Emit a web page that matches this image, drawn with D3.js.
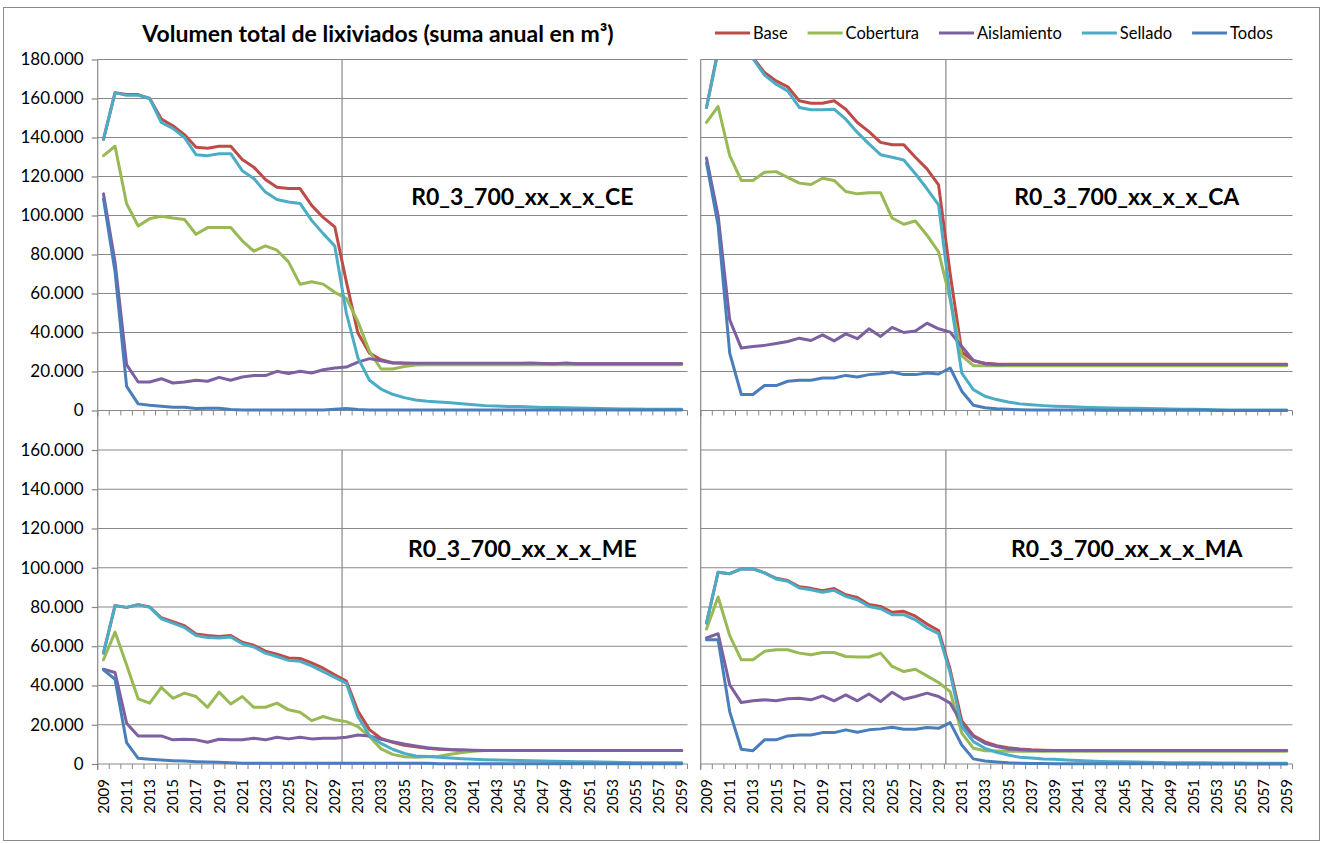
<!DOCTYPE html>
<html>
<head>
<meta charset="utf-8">
<script src="https://cdn.jsdelivr.net/npm/d3@7"></script>
<style>
body { margin: 0; background: #fff; }
#chart text { font-family: Lato, "Open Sans", sans-serif; fill: #000; }
</style>
</head>
<body>
<svg id="chart"></svg>
<script>
const years = d3.range(2009, 2060);
const seriesNames = ["Base", "Cobertura", "Aislamiento", "Sellado", "Todos"];
const yTicksTop = [0, 20000, 40000, 60000, 80000, 100000, 120000, 140000, 160000, 180000];
const yTicksBottom = [0, 20000, 40000, 60000, 80000, 100000, 120000, 140000, 160000];

// R0_3_700_xx_x_x_CE
const baseCE = [139000,163000,162000,162000,160000,149500,146000,141500,135000,134500,
    135500,135500,128700,124800,118500,114500,113800,113800,105200,99000,
    94200,66000,39700,29400,26000,24500,24200,24100,24000,24000,
    24000,24000,24000,24000,24000,24000,24000,24000,24000,24000,
    24000,24000,24000,24000,24000,24000,24000,24000,24000,24000,
    24000];
const coberturaCE = [130700,135500,106000,94600,98400,99600,98700,98000,90400,93800,
    93800,93800,87000,81700,84400,82200,76200,64700,66000,64800,
    60600,57500,45600,30300,21300,21300,22600,23300,23500,23500,
    23500,23500,23500,23500,23500,23500,23500,23500,23500,23500,
    23500,23500,23500,23500,23500,23500,23500,23500,23500,23500,
    23500];
const aislamientoCE = [111100,76200,23500,14600,14600,16300,14100,14600,15500,15000,
    17000,15500,17200,17900,17900,20100,18900,20100,19200,20900,
    21800,22300,24800,26600,25500,24300,24300,24200,24200,24200,
    24200,24200,24200,24200,24200,24200,24200,24300,24100,24000,
    24300,24000,24000,24000,24000,24000,24000,24000,24000,24000,
    24000];
const selladoCE = [139000,163000,161700,161700,160000,147700,144700,140000,131200,130700,
    131700,131700,123000,119000,112000,108200,106900,106200,97500,90700,
    84400,50000,27000,15500,11000,8300,6600,5400,4800,4400,
    4000,3500,3000,2500,2300,2100,2000,1800,1600,1500,
    1400,1300,1200,1000,900,800,800,700,700,700,
    700];
const todosCE = [108600,71100,12400,3400,2700,2200,1700,1700,1000,1200,
    1200,500,300,300,300,300,300,300,300,300,
    700,1000,500,300,300,300,300,300,200,200,
    200,200,200,200,200,200,200,200,200,200,
    200,200,200,200,200,200,200,200,200,200,
    200];

// R0_3_700_xx_x_x_CA
const baseCA = [155400,185000,187000,185000,181000,173300,169000,166000,158800,157600,
    157600,158800,154500,147700,143000,137500,136300,136300,129900,123900,
    115700,70000,30000,25500,24200,23800,23700,23700,23700,23700,
    23700,23700,23700,23700,23700,23700,23700,23700,23700,23700,
    23700,23700,23700,23700,23700,23700,23700,23700,23700,23700,
    23700];
const coberturaCA = [147700,155900,130700,118000,118000,122200,122500,119600,116600,115900,
    119100,118000,112300,111100,111700,111700,98700,95500,97200,89900,
    81400,57000,28000,23000,23000,23000,23000,23000,23000,23000,
    23000,23000,23000,23000,23000,23000,23000,23000,23000,23000,
    23000,23000,23000,23000,23000,23000,23000,23000,23000,23000,
    23000];
const aislamientoCA = [129500,100000,46500,32000,32800,33400,34400,35400,37100,35900,
    38800,35700,39300,36800,41900,38000,42600,40000,40800,44800,
    41900,40200,32800,25700,24000,23500,23600,23600,23600,23600,
    23600,23600,23600,23600,23600,23600,23600,23600,23600,23600,
    23600,23600,23600,23600,23600,23600,23600,23600,23600,23600,
    23600];
const selladoCA = [155400,184000,186000,184000,180500,172000,167300,163900,155400,154200,
    154200,154500,149400,142600,136700,131200,129900,128500,121400,113700,
    105500,58000,19200,10700,7300,5600,4400,3400,2900,2500,
    2200,2000,1800,1600,1400,1300,1200,1100,1000,900,
    800,700,600,500,400,300,300,200,200,200,
    200];
const todosCA = [127000,95000,29400,8200,8200,12800,12800,15000,15500,15500,
    16700,16700,18000,17200,18400,18900,19700,18400,18400,19200,
    18700,21800,9900,2700,1400,900,600,400,300,300,
    200,200,200,200,100,100,100,100,100,100,
    100,100,100,100,0,0,0,0,0,0,
    0];

// R0_3_700_xx_x_x_ME
const baseME = [56500,80700,79800,81200,80000,74500,72500,70500,66200,65500,
    65000,65500,62000,60500,57500,56000,54000,53800,51500,48800,
    45500,42300,27000,17500,13000,11000,9500,8800,8000,7500,
    7200,6900,6900,6900,6900,6900,6900,6900,6900,6900,
    6900,6900,6900,6900,6900,6900,6900,6900,6900,6900,
    6900];
const coberturaME = [53100,67200,50500,33200,31000,39000,33500,36100,34400,28900,
    36600,30600,34400,28900,28900,31000,27600,26400,22100,24200,
    22500,21600,19100,14000,7700,4900,3700,3500,3700,4000,
    5000,5800,6500,6900,6900,6900,6900,6900,6900,6900,
    6900,6900,6900,6900,6900,6900,6900,6900,6900,6900,
    6900];
const aislamientoME = [48300,46600,20800,14300,14300,14300,12300,12600,12300,11100,
    12600,12300,12300,13100,12300,13600,12800,13600,12800,13100,
    13100,13600,14800,14300,12600,11400,10200,9200,8300,7800,
    7400,7200,7000,6900,6900,6900,6900,6900,6900,6900,
    6900,6900,6900,6900,6900,6900,6900,6900,6900,6900,
    6900];
const selladoME = [56500,80700,79800,81200,79800,74000,71800,69600,65500,64500,
    64200,64700,61300,59600,56500,54800,52800,52300,50000,47100,
    44100,41200,24200,14500,10500,7500,5400,4100,3800,3400,
    3000,2700,2400,2200,2000,1900,1800,1700,1500,1400,
    1300,1200,1100,1000,900,800,700,700,600,600,
    600];
const todosME = [48000,43200,10900,2900,2400,2000,1700,1500,1200,1000,
    850,700,400,400,400,400,400,400,400,400,
    400,400,400,400,400,400,400,400,400,100,
    100,100,100,100,100,100,100,100,100,100,
    100,100,100,100,100,100,100,100,100,100,
    100];

// R0_3_700_xx_x_x_MA
const baseMA = [71800,97700,97000,99400,99400,97400,94600,93500,90300,89500,
    88300,89400,86200,84800,81300,80300,77300,77800,75300,71300,
    68000,48000,22000,14500,11300,9300,8300,7600,7200,7000,
    6900,6900,6900,6900,6900,6900,6900,6900,6900,6900,
    6900,6900,6900,6900,6900,6900,6900,6900,6900,6900,
    6900];
const coberturaMA = [68800,85100,65400,53100,53100,57400,58200,58200,56500,55700,
    56800,56800,54800,54500,54500,56500,49700,47100,48300,44900,
    41500,36900,15700,8000,6800,6600,6500,6500,6500,6500,
    6500,6500,6500,6500,6500,6500,6500,6500,6500,6500,
    6500,6500,6500,6500,6500,6500,6500,6500,6500,6500,
    6500];
const aislamientoMA = [64200,66400,40300,31300,32200,32700,32200,33200,33500,32700,
    34700,32200,35200,32200,35700,31800,36600,33000,34400,36100,
    34400,31000,20800,14000,10600,8900,7700,7300,7000,6900,
    6900,6900,6900,6900,6900,6900,6900,6900,6900,6900,
    6900,6900,6900,6900,6900,6900,6900,6900,6900,6900,
    6900];
const selladoMA = [71800,97700,97000,99400,99400,97400,94300,93100,89700,88800,
    87500,88500,85400,83700,80300,79100,76100,76100,73500,69300,
    66400,46300,19100,11400,8000,6000,4600,3400,3000,2600,
    2400,2100,1800,1500,1300,1200,1100,1000,900,800,
    700,700,600,600,500,500,500,400,400,400,
    400];
const todosMA = [63300,63300,26700,7500,6800,12300,12300,14300,14800,14800,
    16000,16000,17400,16200,17400,17900,18700,17700,17700,18600,
    18200,21100,9700,2600,1500,1000,600,400,300,200,
    100,100,100,100,100,100,100,100,100,100,
    0,0,0,0,0,0,0,0,0,0,
    0];

const panels = [
    {name: "R0_3_700_xx_x_x_CE", col: 0, row: 0, series: [baseCE, coberturaCE, aislamientoCE, selladoCE, todosCE]},
    {name: "R0_3_700_xx_x_x_CA", col: 1, row: 0, series: [baseCA, coberturaCA, aislamientoCA, selladoCA, todosCA]},
    {name: "R0_3_700_xx_x_x_ME", col: 0, row: 1, series: [baseME, coberturaME, aislamientoME, selladoME, todosME]},
    {name: "R0_3_700_xx_x_x_MA", col: 1, row: 1, series: [baseMA, coberturaMA, aislamientoMA, selladoMA, todosMA]}
];

const colors = ["#be4b48", "#98b954", "#7d60a0", "#4bacc6", "#4a7ebb"];
const gridColor = "#888888";

const svgWidth = 1325, svgHeight = 843;
const cols = [{left: 97.7, right: 687.5}, {left: 700.7, right: 1292.5}];
const rows = [{top: 59.5, bottom: 410.5, ticks: yTicksTop},
              {top: 410.75, bottom: 764, ticks: yTicksBottom}];

const esLocale = d3.formatLocale({decimal: ",", thousands: ".", grouping: [3], currency: ["", " €"]});
const fmt = esLocale.format(",");

const chart = d3.select("#chart")
    .attr("width", svgWidth)
    .attr("height", svgHeight);

chart.append("rect")
    .attr("x", 3.5).attr("y", 7.5)
    .attr("width", 1316).attr("height", 833)
    .attr("fill", "#fff")
    .attr("stroke", "#8a8a8a")
    .attr("stroke-width", 1);

chart.append("text")
    .attr("x", 378).attr("y", 42)
    .attr("text-anchor", "middle")
    .style("font-size", "23px")
    .style("font-weight", "bold")
    .text("Volumen total de lixiviados (suma anual en m³)");

panels.forEach(function(p, k) {
    const c = cols[p.col], r = rows[p.row];

    const x = d3.scaleBand().domain(years).range([c.left, c.right]);
    const y = d3.scaleLinear().domain([0, 180000]).range([r.bottom, r.top]);
    const bw = x.bandwidth();
    const g = chart.append("g");

    // horizontal gridlines
    g.append("g").selectAll("line")
        .data(r.ticks)
        .enter().append("line")
        .attr("x1", c.left).attr("x2", c.right)
        .attr("y1", d => y(d)).attr("y2", d => y(d))
        .attr("stroke", gridColor)
        .attr("stroke-width", 1.2);

    // y labels only on the left column
    if (p.col == 0) {
        const yAxis = d3.axisLeft(y)
            .tickValues(r.ticks)
            .tickFormat(fmt)
            .tickSize(6)
            .tickPadding(8);
        const ya = g.append("g")
            .attr("transform", "translate(" + c.left + ",0)")
            .call(yAxis);
        ya.select(".domain").remove();
        ya.selectAll("line").attr("stroke", gridColor).attr("stroke-width", 1.2);
        ya.selectAll("text").style("font-size", "17px").attr("fill", "#000");
    }

    // y axis line
    g.append("line")
        .attr("x1", c.left).attr("x2", c.left)
        .attr("y1", r.top).attr("y2", r.bottom + 6)
        .attr("stroke", gridColor)
        .attr("stroke-width", 1.2);

    // category boundary ticks
    g.append("g").selectAll("line")
        .data(d3.range(years.length + 1))
        .enter().append("line")
        .attr("x1", i => c.left + i * x.step())
        .attr("x2", i => c.left + i * x.step())
        .attr("y1", r.bottom).attr("y2", r.bottom + 5)
        .attr("stroke", gridColor)
        .attr("stroke-width", 1);

    // 2030 marker
    g.append("line")
        .attr("x1", x(2030) + 1.5).attr("x2", x(2030) + 1.5)
        .attr("y1", y(d3.max(r.ticks))).attr("y2", r.bottom)
        .attr("stroke", gridColor)
        .attr("stroke-width", 1.2);

    if (p.row == 1) {
        g.append("g").selectAll("text")
            .data(years.filter(d => (d - 2009) % 2 == 0))
            .enter().append("text")
            .attr("transform", d => "translate(" + (x(d) + bw / 2) + "," + (r.bottom + 15) + ") rotate(-90)")
            .attr("text-anchor", "end")
            .attr("dy", "0.36em")
            .style("font-size", "15px")
            .text(d => d);
    }

    chart.append("clipPath")
        .attr("id", "clip" + k)
        .append("rect")
        .attr("x", c.left).attr("y", r.top)
        .attr("width", c.right - c.left)
        .attr("height", r.bottom - r.top + 4);

    const valueline = d3.line()
        .x((d, i) => x(years[i]) + bw / 2)
        .y(d => y(d))
        .curve(d3.curveLinear);

    g.append("g")
        .attr("clip-path", "url(#clip" + k + ")")
        .selectAll("path")
        .data(p.series)
        .enter().append("path")
        .attr("d", valueline)
        .attr("fill", "none")
        .attr("stroke", (d, i) => colors[i])
        .attr("stroke-width", 3)
        .attr("stroke-linejoin", "round")
        .attr("stroke-linecap", "round");

    g.append("text")
        .attr("x", c.left + 0.72 * (c.right - c.left))
        .attr("y", y(105500))
        .attr("text-anchor", "middle")
        .style("font-size", "23px")
        .style("font-weight", "bold")
        .text(p.name);
});

// legend
var lx = 715;
const legend = chart.append("g");
seriesNames.forEach(function(name, i) {
    legend.append("line")
        .attr("x1", lx).attr("x2", lx + 35)
        .attr("y1", 33).attr("y2", 33)
        .attr("stroke", colors[i])
        .attr("stroke-width", 3);
    const t = legend.append("text")
        .attr("x", lx + 38).attr("y", 38.5)
        .style("font-size", "16.5px")
        .text(name);
    lx = lx + 38 + t.node().getComputedTextLength() + 20;
});
</script>
</body>
</html>
